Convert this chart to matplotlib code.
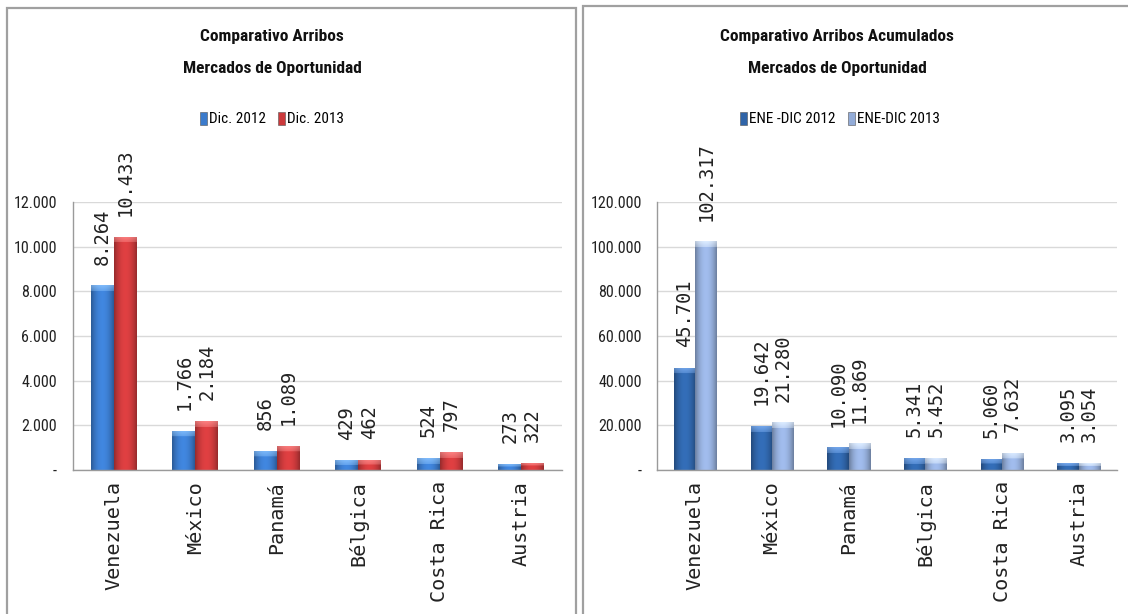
import matplotlib
matplotlib.use('Agg')
import matplotlib.pyplot as plt
import numpy as np
from matplotlib.patches import Rectangle, Patch
from matplotlib import font_manager as fm
from matplotlib.ticker import FixedLocator, FuncFormatter
from matplotlib.colors import to_rgb

# ---------------- data ----------------
categories = ['Venezuela', 'México', 'Panamá', 'Bélgica', 'Costa Rica', 'Austria']
dic_2012 = [8264, 1766, 856, 429, 524, 273]
dic_2013 = [10433, 2184, 1089, 462, 797, 322]
acum_2012 = [45701, 19642, 10090, 5341, 5060, 3095]
acum_2013 = [102317, 21280, 11869, 5452, 7632, 3054]

left_title = ['Comparativo Arribos', 'Mercados de Oportunidad']
right_title = ['Comparativo Arribos Acumulados', 'Mercados de Oportunidad']
left_series = ['Dic. 2012', 'Dic. 2013']
right_series = ['ENE -DIC 2012', 'ENE-DIC 2013']
left_ticks = [0, 2000, 4000, 6000, 8000, 10000, 12000]
right_ticks = [0, 20000, 40000, 60000, 80000, 100000, 120000]

# ---------------- fonts ----------------
avail = {f.name for f in fm.fontManager.ttflist}
def pick(names):
    for n in names:
        if n in avail:
            return n
    return 'DejaVu Sans'
NARROW = pick(['Liberation Sans Narrow', 'Roboto Condensed', 'Open Sans Condensed', 'Liberation Sans'])
MONO = pick(['DejaVu Sans Mono', 'Liberation Mono'])

W, H = 1128, 614
fig = plt.figure(figsize=(W / 100, H / 100), dpi=100)
fig.patch.set_facecolor('white')

def fmt_num(v):
    return f"{int(v):,}".replace(',', '.')

def tick_fmt(v, pos):
    return '-' if v == 0 else fmt_num(v)

def shade(ax, bars, base, top):
    base = np.array(to_rgb(base)); top = np.array(to_rgb(top))
    for b in bars:
        x, w, h = b.get_x(), b.get_width(), b.get_height()
        p0 = ax.transData.transform((x, 0)); p1 = ax.transData.transform((x, h))
        hp = max(int(round(p1[1] - p0[1])), 2)
        n = 40
        t = np.linspace(-1, 1, n)
        f = 0.74 + 0.36 * (1 - t ** 2)
        body = np.clip(base[None, :] * f[:, None], 0, 1)
        cap = np.clip(top[None, :] * (0.88 + 0.16 * (1 - t ** 2))[:, None], 0, 1)
        img = np.repeat(body[None, :, :], hp, axis=0)
        bev = min(6, hp // 2)
        for i in range(bev):
            a = 1 - 0.5 * i / max(bev, 1)
            img[i] = a * cap + (1 - a) * body
        im = ax.imshow(img, extent=(x, x + w, 0, h), aspect='auto',
                       interpolation='bilinear', zorder=2.1, origin='upper')
        im.set_clip_path(b)

def panel(rect, v1, v2, ticks, c1, c1top, c2, c2top, tickpad):
    ax = fig.add_axes(rect)
    x = np.arange(len(categories))
    bw = 0.28
    ax.set_xlim(-0.5, len(categories) - 0.5)
    ax.set_ylim(ticks[0], ticks[-1])
    b1 = ax.bar(x - bw / 2, v1, bw, color=c1, zorder=2, linewidth=0)
    b2 = ax.bar(x + bw / 2, v2, bw, color=c2, zorder=2, linewidth=0)
    shade(ax, b1, c1, c1top)
    shade(ax, b2, c2, c2top)
    ax.set_xlim(-0.5, len(categories) - 0.5)
    ax.set_ylim(ticks[0], ticks[-1])
    for bars, vals in ((b1, v1), (b2, v2)):
        for b, v in zip(bars, vals):
            ax.annotate(fmt_num(v), (b.get_x() + b.get_width() / 2, v),
                        xytext=(0, 15), textcoords='offset points',
                        rotation=90, ha='center', va='bottom',
                        fontsize=13.5, family=MONO, color='#222222',
                        annotation_clip=False)
    ax.yaxis.set_major_locator(FixedLocator(ticks))
    ax.yaxis.set_major_formatter(FuncFormatter(tick_fmt))
    ax.set_xticks(x)
    ax.set_xticklabels(categories, rotation=90, family=MONO, fontsize=14.5, color='#222222')
    for lab in ax.get_yticklabels():
        lab.set_fontfamily(NARROW)
        lab.set_fontsize(11.5)
        lab.set_color('#222222')
    ax.tick_params(axis='y', length=0, pad=tickpad)
    ax.tick_params(axis='x', length=0, pad=8)
    ax.grid(axis='y', color='#d9d9d9', linewidth=1.0, zorder=0)
    ax.set_axisbelow(True)
    for s in ('top', 'right'):
        ax.spines[s].set_visible(False)
    for s in ('left', 'bottom'):
        ax.spines[s].set_color('#9a9a9a')
        ax.spines[s].set_linewidth(1.0)
    return ax

bottom = 1 - 470 / H
height = (470 - 202) / H

panel([73 / W, bottom, (562 - 73) / W, height], dic_2012, dic_2013, left_ticks,
      '#3b7bcc', '#79b2f0', '#cc3a3c', '#f07a7a', 11.5)
panel([657 / W, bottom, (1117 - 657) / W, height], acum_2012, acum_2013, right_ticks,
      '#2f64a8', '#6d9ee0', '#93acd8', '#d3e2f6', 11)

# titles
for cx, lines in ((272, left_title), (837, right_title)):
    fig.text(cx / W, 1 - 36 / H, lines[0], ha='center', va='center',
             family=NARROW, fontweight='bold', fontsize=12.5, color='#111111')
    fig.text(cx / W, 1 - 69 / H, lines[1], ha='center', va='center',
             family=NARROW, fontweight='bold', fontsize=12.5, color='#111111')

# legends
def legend(cx, names, colors):
    handles = [Patch(facecolor=c, edgecolor='#555555', linewidth=0.4, label=n)
               for c, n in zip(colors, names)]
    fig.legend(handles=handles, loc='center', bbox_to_anchor=(cx / W, 1 - 119 / H),
               ncol=2, frameon=False, handlelength=0.45, handleheight=0.95,
               handletextpad=0.15, columnspacing=0.8,
               prop={'family': NARROW, 'size': 11})

legend(272, left_series, ['#3b7bcc', '#cc3a3c'])
legend(840, right_series, ['#2f64a8', '#93acd8'])

# panel borders
fig.add_artist(Rectangle((7 / W, -0.05), (576 - 7) / W, 1.05 - 8 / H,
                         transform=fig.transFigure, fill=False,
                         edgecolor='#a0a0a0', linewidth=1.6))
fig.add_artist(Rectangle((583 / W, -0.05), 0.5, 1.05 - 6 / H,
                         transform=fig.transFigure, fill=False,
                         edgecolor='#a0a0a0', linewidth=1.6))

fig.savefig('out.png', dpi=100, facecolor='white')
